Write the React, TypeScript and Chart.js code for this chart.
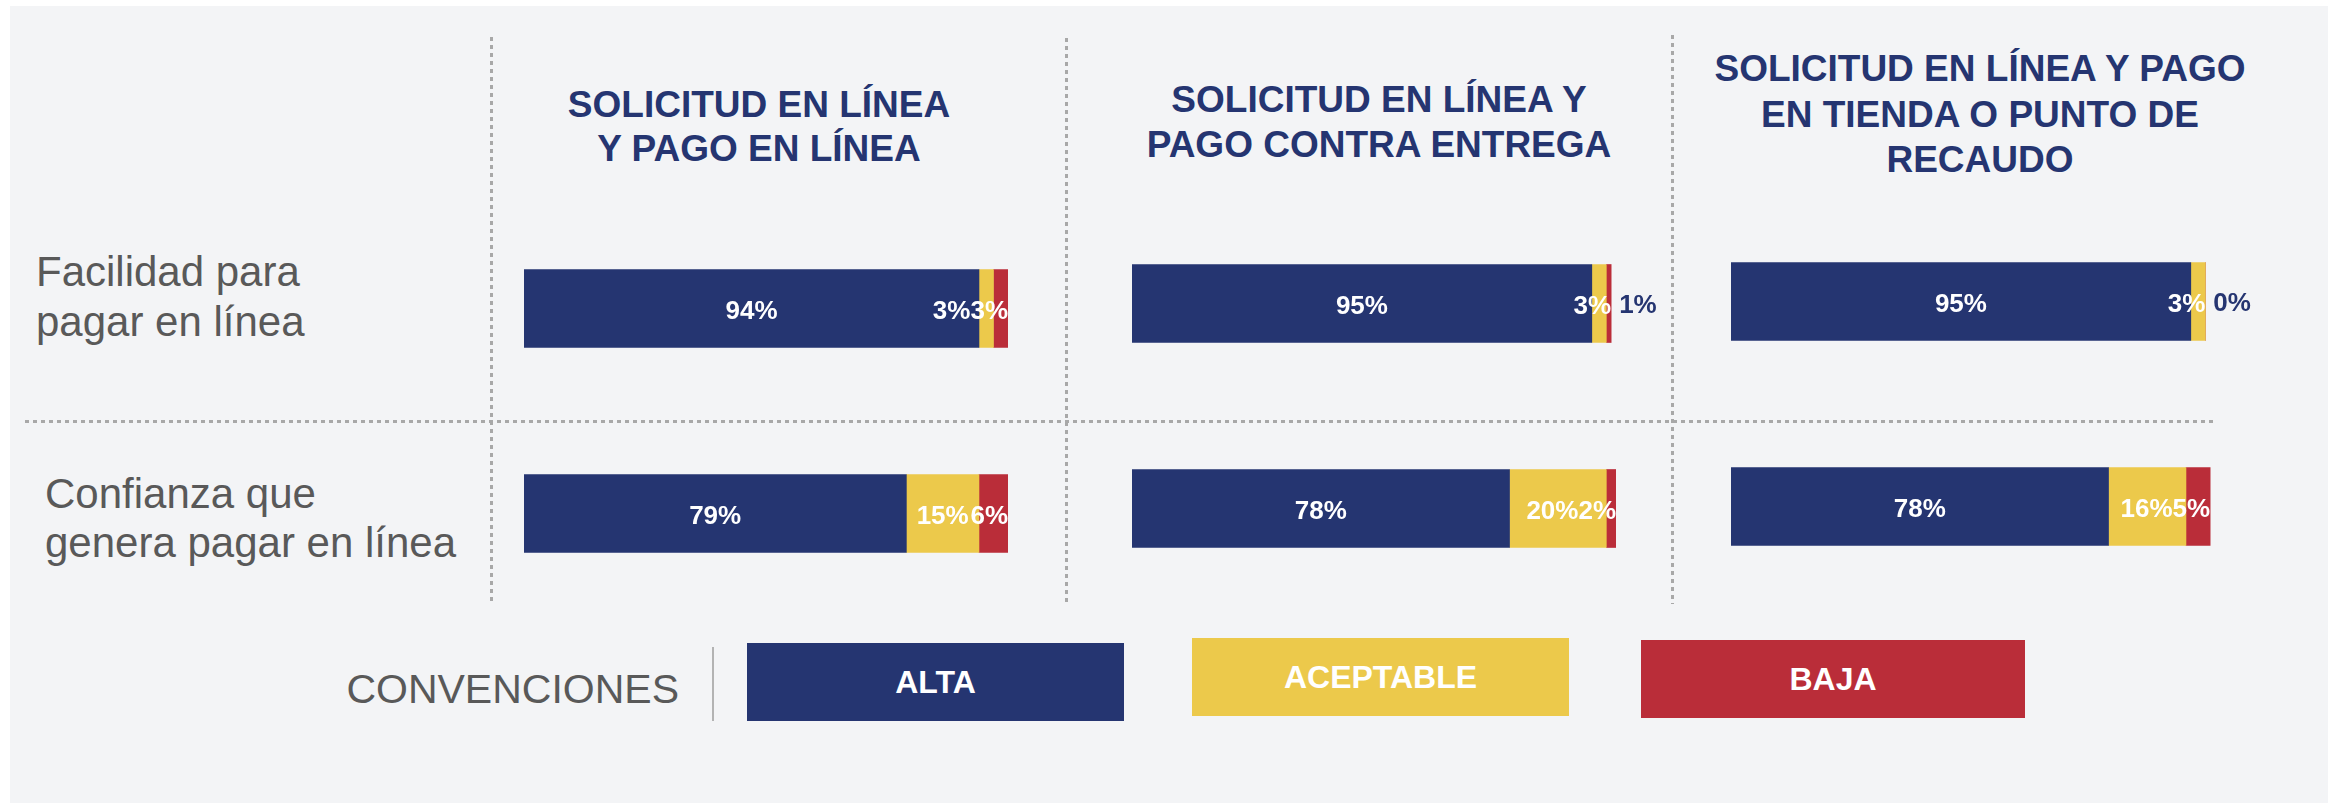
import React, { useEffect, useRef } from "react";
import { Chart, registerables } from "chart.js";

Chart.register(...registerables);

// ---------- data ----------
const rowLabels = ["Facilidad para pagar en línea", "Confianza que genera pagar en línea"];
const seriesNames = ["ALTA", "ACEPTABLE", "BAJA"];

const title1 = ["SOLICITUD EN LÍNEA", "Y PAGO EN LÍNEA"];
const title2 = ["SOLICITUD EN LÍNEA Y", "PAGO CONTRA ENTREGA"];
const title3 = ["SOLICITUD EN LÍNEA Y PAGO", "EN TIENDA O PUNTO DE", "RECAUDO"];

const alta1 = [94, 79];
const aceptable1 = [3, 15];
const baja1 = [3, 6];

const alta2 = [95, 78];
const aceptable2 = [3, 20];
const baja2 = [1, 2];

const alta3 = [95, 78];
const aceptable3 = [3, 16];
const baja3 = [0, 5];

const legendTitle = "CONVENCIONES";

// ---------- style ----------
const NAVY = "#253571";
const YELLOW = "#ECC94B";
const RED = "#BA2D39";
const GRAY_TEXT = "#595959";
const DOT = "#a8a8a8";
const FONT = 'Arial, "Liberation Sans", sans-serif';
const seriesColors = [NAVY, YELLOW, RED];

const labelPlugin = {
  id: "segLabels",
  afterDatasetsDraw(chart: any) {
    const ctx = chart.ctx;
    ctx.save();
    ctx.font = `bold 26px ${FONT}`;
    ctx.textBaseline = "alphabetic";
    const n = chart.data.labels.length;
    for (let i = 0; i < n; i++) {
      const segs = chart.data.datasets.map((ds: any, d: number) => {
        const el = chart.getDatasetMeta(d).data[i];
        const v = ds.data[i];
        return {
          v,
          start: Math.min(el.base, el.x),
          end: Math.max(el.base, el.x),
          y: el.y,
          text: v + "%",
        };
      });
      const barEnd = Math.max(...segs.map((s: any) => s.end));
      let R = barEnd;
      for (let k = segs.length - 1; k >= 0; k--) {
        const s = segs[k];
        const w = ctx.measureText(s.text).width;
        if (s.v <= 1) {
          ctx.fillStyle = NAVY;
          ctx.textAlign = "left";
          ctx.fillText(s.text, barEnd + 8, s.y + 9);
        } else {
          const c = Math.min((s.start + s.end) / 2, R - w / 2);
          ctx.fillStyle = "#ffffff";
          ctx.textAlign = "center";
          ctx.fillText(s.text, c, s.y + 10);
          R = c - w / 2;
        }
      }
    }
    ctx.restore();
  },
};

function BarPanel(props: { values: number[][]; left: number; top: number }) {
  const ref = useRef<HTMLCanvasElement | null>(null);
  useEffect(() => {
    if (!ref.current) return;
    const chart = new Chart(ref.current, {
      type: "bar",
      data: {
        labels: rowLabels,
        datasets: seriesNames.map((name, k) => ({
          label: name,
          data: props.values[k],
          backgroundColor: seriesColors[k],
          borderWidth: 0,
          barThickness: 78,
        })),
      },
      options: {
        indexAxis: "y",
        responsive: false,
        animation: false,
        layout: { padding: { left: 0, right: 76, top: 0, bottom: 0 } },
        scales: {
          x: { stacked: true, min: 0, max: 100, display: false },
          y: { stacked: true, display: false },
        },
        plugins: { legend: { display: false }, tooltip: { enabled: false } },
      },
      plugins: [labelPlugin],
    } as any);
    return () => chart.destroy();
  }, []);
  return (
    <canvas
      ref={ref}
      width={560}
      height={410}
      style={{ position: "absolute", left: props.left, top: props.top, width: 560, height: 410 }}
    />
  );
}

function topFor(baseline: number, fs: number, lh: number) {
  return baseline - ((lh - 1.117 * fs) / 2 + 0.905 * fs);
}

function Title(props: { lines: string[]; center: number; baseline: number; lh: number }) {
  const fs = 37;
  const w = 640;
  return (
    <div
      style={{
        position: "absolute",
        left: props.center - w / 2,
        top: topFor(props.baseline, fs, props.lh),
        width: w,
        textAlign: "center",
        font: `bold ${fs}px ${FONT}`,
        lineHeight: props.lh + "px",
        color: NAVY,
        whiteSpace: "pre",
      }}
    >
      {props.lines.join("\n")}
    </div>
  );
}

function RowLabel(props: { text: string; left: number; baseline: number; lh: number }) {
  const fs = 42;
  return (
    <div
      style={{
        position: "absolute",
        left: props.left,
        top: topFor(props.baseline, fs, props.lh),
        font: `${fs}px ${FONT}`,
        lineHeight: props.lh + "px",
        color: GRAY_TEXT,
        whiteSpace: "pre",
      }}
    >
      {props.text}
    </div>
  );
}

function VDots(props: { x: number; y1: number; y2: number }) {
  return (
    <div
      style={{
        position: "absolute",
        left: props.x - 1.5,
        top: props.y1,
        width: 3,
        height: props.y2 - props.y1,
        background: `repeating-linear-gradient(to bottom, ${DOT} 0px, ${DOT} 4px, transparent 4px, transparent 8px)`,
      }}
    />
  );
}

function LegendBox(props: { text: string; color: string; left: number; top: number; width: number }) {
  return (
    <div
      style={{
        position: "absolute",
        left: props.left,
        top: props.top,
        width: props.width,
        height: 78,
        background: props.color,
        display: "flex",
        alignItems: "center",
        justifyContent: "center",
        color: "#ffffff",
        font: `bold 32px ${FONT}`,
      }}
    >
      {props.text}
    </div>
  );
}

export default function App() {
  return (
    <div
      style={{
        position: "absolute",
        left: 0,
        top: 0,
        width: 2338,
        height: 803,
        overflow: "hidden",
        background: "#ffffff",
      }}
    >
      <div style={{ position: "absolute", left: 10, top: 6, width: 2318, height: 797, background: "#F3F4F6" }} />

      <VDots x={491} y1={37} y2={604} />
      <VDots x={1066} y1={38} y2={604} />
      <VDots x={1672} y1={35} y2={604} />
      <div
        style={{
          position: "absolute",
          left: 25,
          top: 419.5,
          width: 2191,
          height: 3,
          background: `repeating-linear-gradient(to right, ${DOT} 0px, ${DOT} 4px, transparent 4px, transparent 8px)`,
        }}
      />

      <Title lines={title1} center={759} baseline={118} lh={44} />
      <Title lines={title2} center={1379} baseline={112} lh={45} />
      <Title lines={title3} center={1980} baseline={82} lh={45.5} />

      <RowLabel text={"Facilidad para\npagar en línea"} left={36} baseline={287} lh={50} />
      <RowLabel text={"Confianza que\ngenera pagar en línea"} left={45} baseline={508} lh={49} />

      <BarPanel values={[alta1, aceptable1, baja1]} left={524} top={206} />
      <BarPanel values={[alta2, aceptable2, baja2]} left={1132} top={201} />
      <BarPanel values={[alta3, aceptable3, baja3]} left={1731} top={199} />

      <div
        style={{
          position: "absolute",
          left: 200,
          width: 479,
          top: topFor(703, 41, 48),
          textAlign: "right",
          font: `41px ${FONT}`,
          lineHeight: "48px",
          color: GRAY_TEXT,
          whiteSpace: "pre",
        }}
      >
        {legendTitle}
      </div>
      <div style={{ position: "absolute", left: 712, top: 647, width: 2, height: 74, background: "#b3b3b3" }} />

      <LegendBox text={seriesNames[0]} color={NAVY} left={747} top={643} width={377} />
      <LegendBox text={seriesNames[1]} color={YELLOW} left={1192} top={638} width={377} />
      <LegendBox text={seriesNames[2]} color={RED} left={1641} top={640} width={384} />
    </div>
  );
}
